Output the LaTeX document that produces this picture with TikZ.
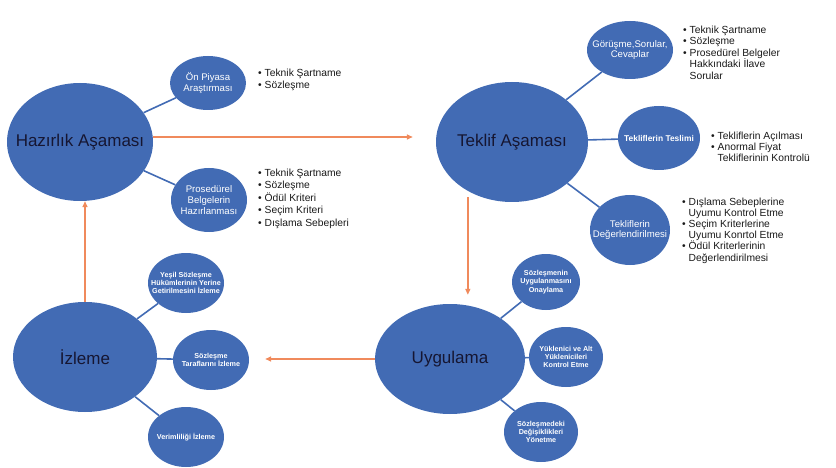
\documentclass[tikz,border=0pt]{standalone}
\usepackage{fontspec}
\setmainfont{Liberation Sans}
\usetikzlibrary{shapes.geometric,arrows.meta,calc}
\definecolor{bblue}{RGB}{66,107,180}
\definecolor{arrorange}{RGB}{240,138,92}
\definecolor{bigtext}{RGB}{22,22,50}
\tikzset{
  blob/.style={ellipse, fill=bblue, inner sep=0pt, draw=none},
  bigtxt/.style={inner sep=0pt, text=bigtext, font=\fontsize{17}{20}\selectfont},
  midtxt/.style={inner sep=0pt, text=white, align=center, font=\fontsize{9.6}{10.8}\selectfont},
  boldtxt/.style={inner sep=0pt, text=white, align=center, font=\bfseries\fontsize{8.4}{10}\selectfont},
  tinytxt/.style={inner sep=0pt, text=white, align=center, font=\bfseries\fontsize{7.2}{8.3}\selectfont},
  link/.style={draw=bblue, line width=1.6pt},
  flow/.style={draw=arrorange, line width=1.4pt, -{Triangle[length=6pt,width=5pt]}},
  blist/.style={anchor=north west, inner sep=0pt, align=left, text=black!90, font=\fontsize{10.3}{12.3}\selectfont},
}
\newcommand\bitem[1]{\makebox[6.5pt][l]{•}#1}
\newcommand\bcont[1]{\hspace*{6.5pt}#1}
\begin{document}
\begin{tikzpicture}[x=1pt,y=-1pt]
\useasboundingbox (0,0) rectangle (836,468);

% main ellipses
\node[blob, minimum width=146pt, minimum height=118pt] (haz) at (80,142) {};
\node[blob, minimum width=152pt, minimum height=120pt] (tek) at (512,142) {};
\node[blob, minimum width=144pt, minimum height=110pt] (iz) at (85,357) {};
\node[blob, minimum width=150pt, minimum height=110pt] (uyg) at (450,359) {};

% sub circles
\node[blob, minimum width=76pt, minimum height=54pt] (onp) at (208,83) {};
\node[blob, minimum width=76pt, minimum height=64pt] (pro) at (209,200) {};
\node[blob, minimum width=86pt, minimum height=58pt] (gor) at (630,50) {};
\node[blob, minimum width=82pt, minimum height=64pt] (tes) at (659,138) {};
\node[blob, minimum width=80pt, minimum height=70pt] (deg) at (630,230) {};
\node[blob, minimum width=76pt, minimum height=60pt] (iza) at (186,283) {};
\node[blob, minimum width=76pt, minimum height=60pt] (izb) at (211,360) {};
\node[blob, minimum width=76pt, minimum height=60pt] (izc) at (186,437) {};
\node[blob, minimum width=68pt, minimum height=56pt] (uya) at (546,282) {};
\node[blob, minimum width=74pt, minimum height=60pt] (uyb) at (566,357) {};
\node[blob, minimum width=74pt, minimum height=60pt] (uyc) at (541,432) {};

% blue links
\draw[link] (haz) -- (onp);
\draw[link] (haz) -- (pro);
\draw[link] (tek) -- (gor);
\draw[link] (tek) -- (tes);
\draw[link] (tek) -- (deg);
\draw[link] (iz) -- (iza);
\draw[link] (iz) -- (izb);
\draw[link] (iz) -- (izc);
\draw[link] (uyg) -- (uya);
\draw[link] (uyg) -- (uyb);
\draw[link] (uyg) -- (uyc);

% orange flow arrows
\draw[flow, shorten >=23pt] ([yshift=5pt]haz.east) -- ([yshift=5pt]tek.west);
\draw[flow, shorten <=6pt, shorten >=9pt] (tek.228) -- (tek.228 |- uyg.north);
\draw[flow, shorten >=16pt] (uyg.west) -- (uyg.west -| izb.east);
\draw[flow] (iz.north) -- (iz.north |- haz.south);

% texts in main ellipses
\node[bigtxt] (hazt) at (haz) {Hazırlık Aşaması};
\node[bigtxt] (tekt) at (tek) {Teklif Aşaması};
\node[bigtxt] (izt) at (iz) {İzleme};
\node[bigtxt] (uygt) at (uyg) {Uygulama};

% texts in sub circles
\node[midtxt] (onpt) at (onp) {Ön Piyasa\\Araştırması};
\node[midtxt] (prot) at (pro) {Prosedürel\\Belgelerin\\Hazırlanması};
\node[midtxt] (gort) at (gor) {Görüşme,Sorular,\\Cevaplar};
\node[boldtxt] (test) at (tes) {Tekliflerin Teslimi};
\node[midtxt] (degt) at (deg) {Tekliflerin\\Değerlendirilmesi};
\node[tinytxt] (izat) at (iza) {Yeşil Sözleşme\\Hükümlerinin Yerine\\Getirilmesini İzleme};
\node[tinytxt] (izbt) at (izb) {Sözleşme\\Taraflarını İzleme};
\node[tinytxt] (izct) at (izc) {Verimliliği İzleme};
\node[tinytxt] (uyat) at (uya) {Sözleşmenin\\Uygulanmasını\\Onaylama};
\node[tinytxt] (uybt) at (uyb) {Yüklenici ve Alt\\Yüklenicileri\\Kontrol Etme};
\node[tinytxt] (uyct) at (uyc) {Sözleşmedeki\\Değişiklikleri\\Yönetme};

% bullet lists
\node[blist] (l1) at (258,68.4) {\bitem{Teknik Şartname}\\\bitem{Sözleşme}};
\node[blist, font=\fontsize{10.3}{12.5}\selectfont] (l2) at (258,168.4)
  {\bitem{Teknik Şartname}\\\bitem{Sözleşme}\\\bitem{Ödül Kriteri}\\\bitem{Seçim Kriteri}\\\bitem{Dışlama Sebepleri}};
\node[blist, font=\fontsize{10.3}{11.5}\selectfont] (l3) at (683,25.4)
  {\bitem{Teknik Şartname}\\\bitem{Sözleşme}\\\bitem{Prosedürel Belgeler}\\\bcont{Hakkındaki İlave}\\\bcont{Sorular}};
\node[blist, font=\fontsize{10.3}{11}\selectfont] (l4) at (711,131.4)
  {\bitem{Tekliflerin Açılması}\\\bitem{Anormal Fiyat}\\\bcont{Tekliflerinin Kontrolü}};
\node[blist, font=\fontsize{10.3}{11.2}\selectfont] (l5) at (682,197.4)
  {\bitem{Dışlama Sebeplerine}\\\bcont{Uyumu Kontrol Etme}\\\bitem{Seçim Kriterlerine}\\\bcont{Uyumu Konrtol Etme}\\\bitem{Ödül Kriterlerinin}\\\bcont{Değerlendirilmesi}};
\end{tikzpicture}
\end{document}
